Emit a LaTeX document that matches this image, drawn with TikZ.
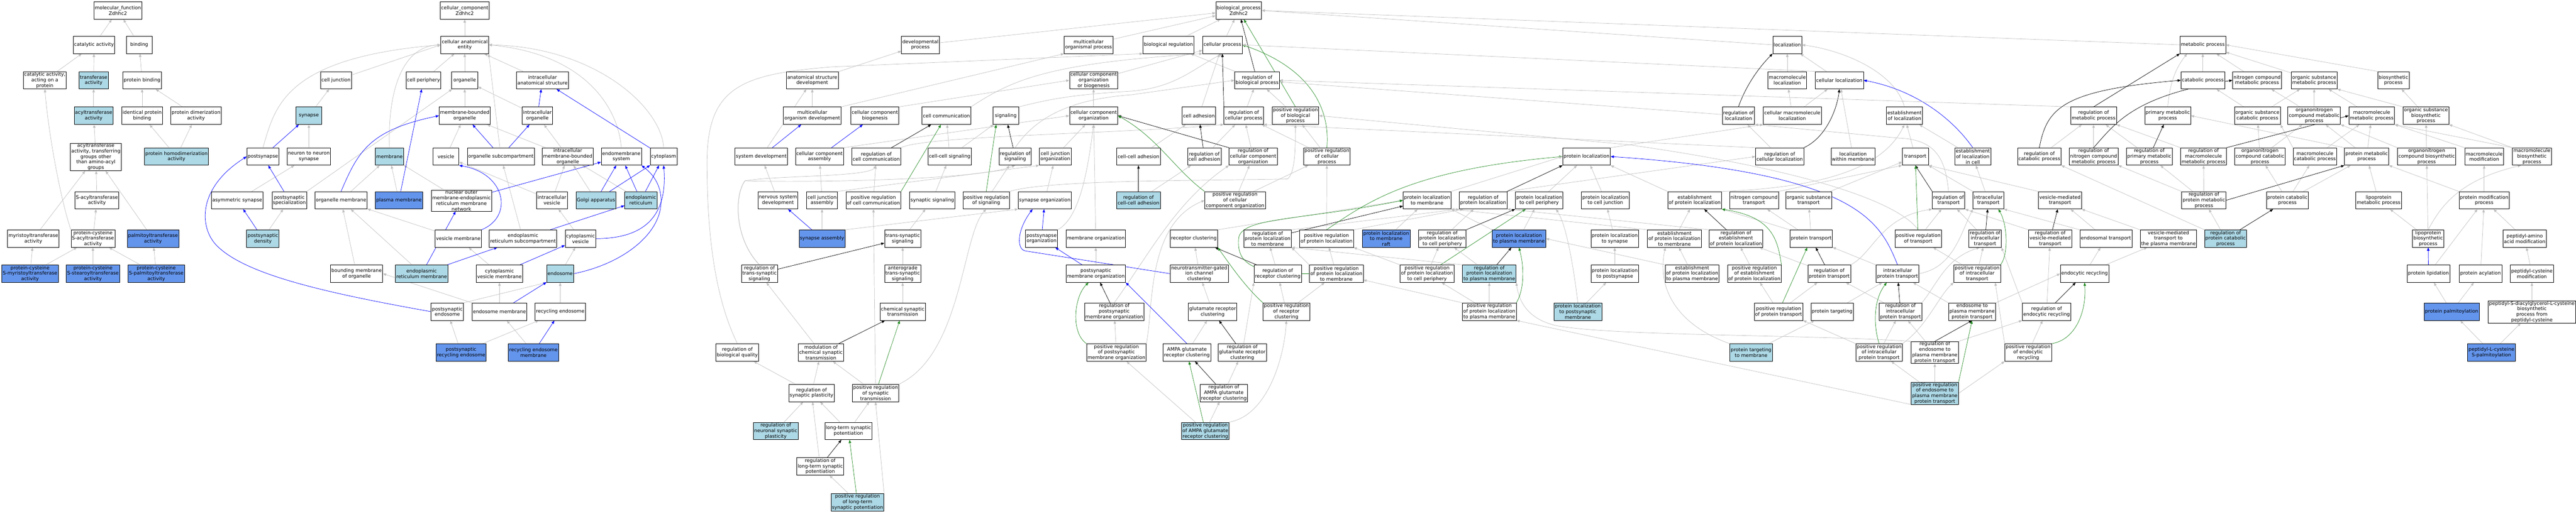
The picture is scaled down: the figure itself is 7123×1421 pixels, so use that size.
\documentclass[tikz,border=0pt]{standalone}
\usepackage{fontspec}
\setmainfont{DejaVu Sans}
\usepackage{tikz}
\usetikzlibrary{arrows.meta,positioning}
\usepackage{xcolor}
\pgfdeclarelayer{edges}
\pgfsetlayers{edges,main}
\definecolor{golightblue}{RGB}{173,216,230}
\definecolor{gocornflower}{RGB}{100,149,237}
\definecolor{goisa}{RGB}{192,192,192}
\definecolor{gopartof}{RGB}{0,0,255}
\definecolor{gopos}{RGB}{34,139,34}
\newcommand{\gofont}{\fontsize{13.3pt}{15.3pt}\selectfont}
\tikzstyle{term} = [draw=black, line width=1pt, fill=white, align=center, font=\gofont, inner xsep=2.5pt, inner ysep=1pt, minimum height=48pt, minimum width=72pt]
\tikzstyle{annot} = [term, fill=golightblue]
\tikzstyle{direct} = [term, fill=gocornflower]
\tikzstyle{isa} = [line width=1pt, draw=goisa, -{Triangle[length=9pt,width=7pt]}]
\tikzstyle{partof} = [isa, draw=gopartof]
\tikzstyle{regul} = [isa, draw=black]
\tikzstyle{posreg} = [isa, draw=gopos]

\begin{document}
\begin{tikzpicture}[x=1pt, y=-1pt]
\useasboundingbox (0,0) rectangle (7123,1421);

% Molecular function
\node[term] (mfroot) at (326,29) {molecular\_function\\Zdhhc2};
\node[term] (catact) at (260,124) {catalytic activity};
\node[term] (binding) at (385,124) {binding};
\node[term] (catprot) at (124,222) {catalytic activity,\\acting on a\\protein};
\node[annot] (transf) at (259,222) {transferase\\activity};
\node[term] (protbind) at (393,222) {protein binding};
\node[annot] (acyltr) at (259,320) {acyltransferase\\activity};
\node[term] (identbind) at (393,320) {identical protein\\binding};
\node[term] (dimer) at (542,320) {protein dimerization\\activity};
\node[term] (acylgrp) at (265,434) {acyltransferase\\activity, transferring\\groups other\\than amino-acyl\\groups};
\node[annot] (homodimer) at (488,433) {protein homodimerization\\activity};
\node[term] (sacyl) at (268,554) {S-acyltransferase\\activity};
\node[term] (myrist) at (92,660) {myristoyltransferase\\activity};
\node[term] (pcsacyl) at (257,660) {protein-cysteine\\S-acyltransferase\\activity};
\node[direct] (palmit) at (423,660) {palmitoyltransferase\\activity};
\node[direct] (pcmyr) at (83,757) {protein-cysteine\\S-myristoyltransferase\\activity};
\node[direct] (pcstear) at (257,757) {protein-cysteine\\S-stearoyltransferase\\activity};
\node[direct] (pcpalm) at (432,757) {protein-cysteine\\S-palmitoyltransferase\\activity};

% Cellular component
\node[term] (ccroot) at (1285,29) {cellular\_component\\Zdhhc2};
\node[term] (cae) at (1285,124) {cellular anatomical\\entity};
\node[term] (celljunc) at (929,222) {cell junction};
\node[term] (cellper) at (1171,222) {cell periphery};
\node[term] (organelle) at (1285,222) {organelle};
\node[term] (intraana) at (1500,222) {intracellular\\anatomical structure};
\node[annot] (synapse) at (854,320) {synapse};
\node[term] (mborg) at (1285,320) {membrane-bounded\\organelle};
\node[term] (intraorg) at (1486,320) {intracellular\\organelle};
\node[term] (postsyn) at (727,433) {postsynapse};
\node[term] (n2n) at (854,433) {neuron to neuron\\synapse};
\node[annot] (membrane) at (1077,433) {membrane};
\node[term] (vesicle) at (1233,433) {vesicle};
\node[term] (orgsub) at (1385,433) {organelle subcompartment};
\node[term] (imborg) at (1570,433) {intracellular\\membrane-bounded\\organelle};
\node[term] (endomem) at (1718,433) {endomembrane\\system};
\node[term] (cytoplasm) at (1835,433) {cytoplasm};
\node[term] (asymsyn) at (656,554) {asymmetric synapse};
\node[term] (pspec) at (800,554) {postsynaptic\\specialization};
\node[term] (orgmem) at (943,554) {organelle membrane};
\node[direct] (plasmamem) at (1103,554) {plasma membrane};
\node[term] (nomernet) at (1276,555) {nuclear outer\\membrane-endoplasmic\\reticulum membrane\\network};
\node[term] (intraves) at (1526,554) {intracellular\\vesicle};
\node[annot] (golgi) at (1648,554) {Golgi apparatus};
\node[annot] (er) at (1772,554) {endoplasmic\\reticulum};
\node[annot] (psd) at (727,660) {postsynaptic\\density};
\node[term] (vesmem) at (1267,660) {vesicle membrane};
\node[term] (ersub) at (1446,660) {endoplasmic\\reticulum subcompartment};
\node[term] (cytves) at (1605,660) {cytoplasmic\\vesicle};
\node[term] (boundmem) at (986,757) {bounding membrane\\of organelle};
\node[annot] (ermem) at (1166,757) {endoplasmic\\reticulum membrane};
\node[term] (cytvesmem) at (1381,757) {cytoplasmic\\vesicle membrane};
\node[annot] (endosome) at (1549,757) {endosome};
\node[term] (psendo) at (1237,862) {postsynaptic\\endosome};
\node[term] (endomemb) at (1381,862) {endosome membrane};
\node[term] (recendo) at (1549,862) {recycling endosome};
\node[direct] (psrecendo) at (1275,975) {postsynaptic\\recycling endosome};
\node[direct] (recendomem) at (1475,975) {recycling endosome\\membrane};

% Biological process: development, signalling, synapse
\node[term] (bproot) at (3425,29) {biological\_process\\Zdhhc2};
\node[term] (devproc) at (2545,124) {developmental\\process};
\node[term] (multiproc) at (3010,124) {multicellular\\organismal process};
\node[term] (bioreg) at (3231,124) {biological regulation};
\node[term] (cellproc) at (3380,124) {cellular process};
\node[term] (asdev) at (2246,222) {anatomical structure\\development};
\node[term] (ccob) at (3024,222) {cellular component\\organization\\or biogenesis};
\node[term] (regbp) at (3476,222) {regulation of\\biological process};
\node[term] (mordev) at (2246,320) {multicellular\\organism development};
\node[term] (ccbio) at (2419,320) {cellular component\\biogenesis};
\node[term] (cellcomm) at (2617,320) {cell communication};
\node[term] (signaling) at (2781,320) {signaling};
\node[term] (ccorg) at (3024,320) {cellular component\\organization};
\node[term] (celladh) at (3315,320) {cell adhesion};
\node[term] (regcp) at (3439,320) {regulation of\\cellular process};
\node[term] (posregbp) at (3582,320) {positive regulation\\of biological\\process};
\node[term] (sysdev) at (2105,433) {system development};
\node[term] (ccasm) at (2266,433) {cellular component\\assembly};
\node[term] (regcc) at (2423,433) {regulation of\\cell communication};
\node[term] (ccsig) at (2626,433) {cell-cell signaling};
\node[term] (regsig) at (2807,433) {regulation of\\signaling};
\node[term] (cjorg) at (2918,433) {cell junction\\organization};
\node[term] (ccadh) at (3148,433) {cell-cell adhesion};
\node[term] (regcadh) at (3330,433) {regulation of\\cell adhesion};
\node[term] (regccorg) at (3465,433) {regulation of\\cellular component\\organization};
\node[term] (posregcp) at (3669,433) {positive regulation\\of cellular\\process};
\node[term] (nsdev) at (2151,554) {nervous system\\development};
\node[term] (cjasm) at (2273,554) {cell junction\\assembly};
\node[term] (posregcc) at (2415,554) {positive regulation\\of cell communication};
\node[term] (synsig) at (2578,554) {synaptic signaling};
\node[term] (posregsig) at (2727,554) {positive regulation\\of signaling};
\node[term] (synorg) at (2889,554) {synapse organization};
\node[annot] (regccadh) at (3148,554) {regulation of\\cell-cell adhesion};
\node[term] (posregccorg) at (3415,554) {positive regulation\\of cellular\\component organization};
\node[direct] (synasm) at (2273,660) {synapse assembly};
\node[term] (transsyn) at (2496,660) {trans-synaptic\\signaling};
\node[term] (psorg) at (2880,660) {postsynapse\\organization};
\node[term] (memorg) at (3030,660) {membrane organization};
\node[term] (recclus) at (3301,660) {receptor clustering};
\node[term] (regplmem) at (3505,660) {regulation of\\protein localization\\to membrane};
\node[term] (posregpl) at (3668,660) {positive regulation\\of protein localization};
\node[direct] (plraft) at (3833,660) {protein localization\\to membrane\\raft};
\node[term] (regtss) at (2100,757) {regulation of\\trans-synaptic\\signaling};
\node[term] (antero) at (2496,757) {anterograde\\trans-synaptic\\signaling};
\node[term] (psmemorg) at (3030,757) {postsynaptic\\membrane organization};
\node[term] (ntgclus) at (3316,757) {neurotransmitter-gated\\ion channel\\clustering};
\node[term] (regrecclus) at (3533,757) {regulation of\\receptor clustering};
\node[term] (posregplmem) at (3695,757) {positive regulation\\of protein localization\\to membrane};
\node[term] (posregplcp) at (3946,757) {positive regulation\\of protein localization\\to cell periphery};
\node[term] (chemsyn) at (2496,862) {chemical synaptic\\transmission};
\node[term] (regpsmem) at (3081,862) {regulation of\\postsynaptic\\membrane organization};
\node[term] (glurclus) at (3353,862) {glutamate receptor\\clustering};
\node[term] (posregrecclus) at (3557,862) {positive regulation\\of receptor\\clustering};
\node[term] (regbq) at (2039,975) {regulation of\\biological quality};
\node[term] (modchem) at (2270,975) {modulation of\\chemical synaptic\\transmission};
\node[term] (posregpsmem) at (3087,975) {positive regulation\\of postsynaptic\\membrane organization};
\node[term] (ampaclus) at (3282,975) {AMPA glutamate\\receptor clustering};
\node[term] (regglur) at (3435,975) {regulation of\\glutamate receptor\\clustering};
\node[term] (regsynpl) at (2244,1087) {regulation of\\synaptic plasticity};
\node[term] (posregsyntr) at (2421,1087) {positive regulation\\of synaptic\\transmission};
\node[term] (regampa) at (3384,1087) {regulation of\\AMPA glutamate\\receptor clustering};
\node[annot] (regneursyn) at (2145,1192) {regulation of\\neuronal synaptic\\plasticity};
\node[term] (ltp) at (2346,1192) {long-term synaptic\\potentiation};
\node[annot] (posregampa) at (3333,1192) {positive regulation\\of AMPA glutamate\\receptor clustering};
\node[term] (regltp) at (2268,1290) {regulation of\\long-term synaptic\\potentiation};
\node[annot] (posregltp) at (2371,1389) {positive regulation\\of long-term\\synaptic potentiation};

% Biological process: localization and transport
\node[term] (loc) at (4942,124) {localization};
\node[term] (macloc) at (4942,222) {macromolecule\\localization};
\node[term] (cellloc) at (5086,222) {cellular localization};
\node[term] (regloc) at (4807,320) {regulation of\\localization};
\node[term] (cmacloc) at (4956,320) {cellular macromolecule\\localization};
\node[term] (estloc) at (5266,320) {establishment\\of localization};
\node[term] (protloc) at (4387,433) {protein localization};
\node[term] (regcellloc) at (4921,433) {regulation of\\cellular localization};
\node[term] (locmem) at (5124,433) {localization\\within membrane};
\node[term] (transport) at (5296,433) {transport};
\node[term] (estloccell) at (5455,433) {establishment\\of localization\\in cell};
\node[term] (plmem) at (3946,554) {protein localization\\to membrane};
\node[term] (regpl) at (4101,554) {regulation of\\protein localization};
\node[term] (plcp) at (4256,554) {protein localization\\to cell periphery};
\node[term] (plcj) at (4439,554) {protein localization\\to cell junction};
\node[term] (estpl) at (4686,554) {establishment\\of protein localization};
\node[term] (ntrans) at (4850,554) {nitrogen compound\\transport};
\node[term] (otrans) at (5001,554) {organic substance\\transport};
\node[term] (regtrans) at (5388,554) {regulation of\\transport};
\node[term] (inttrans) at (5498,554) {intracellular\\transport};
\node[term] (vestrans) at (5696,554) {vesicle-mediated\\transport};
\node[term] (regplcp) at (3988,660) {regulation of\\protein localization\\to cell periphery};
\node[direct] (plpm) at (4200,660) {protein localization\\to plasma membrane};
\node[term] (plsyn) at (4465,660) {protein localization\\to synapse};
\node[term] (estplmem) at (4630,660) {establishment\\of protein localization\\to membrane};
\node[term] (regestpl) at (4800,660) {regulation of\\establishment\\of protein localization};
\node[term] (prottrans) at (5008,660) {protein transport};
\node[term] (posregtrans) at (5304,660) {positive regulation\\of transport};
\node[term] (reginttrans) at (5489,660) {regulation of\\intracellular\\transport};
\node[term] (regvestrans) at (5669,660) {regulation of\\vesicle-mediated\\transport};
\node[term] (endotrans) at (5823,660) {endosomal transport};
\node[term] (vestranspm) at (5996,660) {vesicle-mediated\\transport to\\the plasma membrane};
\node[annot] (regplpm) at (4118,757) {regulation of\\protein localization\\to plasma membrane};
\node[term] (plps) at (4465,757) {protein localization\\to postsynapse};
\node[term] (estplpm) at (4679,757) {establishment\\of protein localization\\to plasma membrane};
\node[term] (posregestpl) at (4851,757) {positive regulation\\of establishment\\of protein localization};
\node[term] (regprottrans) at (5058,757) {regulation of\\protein transport};
\node[term] (ipt) at (5247,757) {intracellular\\protein transport};
\node[term] (posreginttrans) at (5467,757) {positive regulation\\of intracellular\\transport};
\node[term] (endorec) at (5764,757) {endocytic recycling};
\node[term] (posregplpm) at (4118,862) {positive regulation\\of protein localization\\to plasma membrane};
\node[annot] (plpsm) at (4363,862) {protein localization\\to postsynaptic\\membrane};
\node[term] (posregprottrans) at (4918,862) {positive regulation\\of protein transport};
\node[term] (prottarg) at (5066,862) {protein targeting};
\node[term] (regipt) at (5255,862) {regulation of\\intracellular\\protein transport};
\node[term] (endopm) at (5453,862) {endosome to\\plasma membrane\\protein transport};
\node[term] (regendorec) at (5659,862) {regulation of\\endocytic recycling};
\node[annot] (prottargmem) at (4842,975) {protein targeting\\to membrane};
\node[term] (posregipt) at (5196,975) {positive regulation\\of intracellular\\protein transport};
\node[term] (regep) at (5350,975) {regulation of\\endosome to\\plasma membrane\\protein transport};
\node[term] (posregendorec) at (5608,975) {positive regulation\\of endocytic\\recycling};
\node[annot] (posregep) at (5350,1088) {positive regulation\\of endosome to\\plasma membrane\\protein transport};

% Biological process: metabolism
\node[term] (metproc) at (6091,124) {metabolic process};
\node[term] (catproc) at (6091,222) {catabolic process};
\node[term] (ncmet) at (6241,222) {nitrogen compound\\metabolic process};
\node[term] (osmet) at (6399,222) {organic substance\\metabolic process};
\node[term] (biosyn) at (6618,222) {biosynthetic\\process};
\node[term] (regmet) at (5789,320) {regulation of\\metabolic process};
\node[term] (primet) at (5994,320) {primary metabolic\\process};
\node[term] (oscat) at (6242,320) {organic substance\\catabolic process};
\node[term] (oncmet) at (6399,320) {organonitrogen\\compound metabolic\\process};
\node[term] (macmet) at (6558,320) {macromolecule\\metabolic process};
\node[term] (osbio) at (6708,320) {organic substance\\biosynthetic\\process};
\node[term] (regcat) at (5639,433) {regulation of\\catabolic process};
\node[term] (regncmet) at (5789,433) {regulation of\\nitrogen compound\\metabolic process};
\node[term] (regprimet) at (5943,433) {regulation of\\primary metabolic\\process};
\node[term] (regmacmet) at (6093,433) {regulation of\\macromolecule\\metabolic process};
\node[term] (onccat) at (6249,433) {organonitrogen\\compound catabolic\\process};
\node[term] (maccat) at (6401,433) {macromolecule\\catabolic process};
\node[term] (protmet) at (6544,433) {protein metabolic\\process};
\node[term] (oncbio) at (6710,433) {organonitrogen\\compound biosynthetic\\process};
\node[term] (macmod) at (6869,433) {macromolecule\\modification};
\node[term] (macbio) at (7001,433) {macromolecule\\biosynthetic\\process};
\node[term] (regprotmet) at (6094,554) {regulation of\\protein metabolic\\process};
\node[term] (protcat) at (6325,554) {protein catabolic\\process};
\node[term] (lipomet) at (6577,554) {lipoprotein\\metabolic process};
\node[term] (protmod) at (6869,554) {protein modification\\process};
\node[annot] (regprotcat) at (6154,660) {regulation of\\protein catabolic\\process};
\node[term] (lipobio) at (6714,660) {lipoprotein\\biosynthetic\\process};
\node[term] (pepaa) at (6981,660) {peptidyl-amino\\acid modification};
\node[term] (protlip) at (6715,757) {protein lipidation};
\node[term] (protacyl) at (6859,757) {protein acylation};
\node[term] (pepcys) at (7001,757) {peptidyl-cysteine\\modification};
\node[direct] (protpalm) at (6779,862) {protein palmitoylation};
\node[term] (pepdiac) at (7001,863) {peptidyl-S-diacylglycerol-L-cysteine\\biosynthetic\\process from\\peptidyl-cysteine};
\node[direct] (peppalm) at (6889,975) {peptidyl-L-cysteine\\S-palmitoylation};

\begin{pgfonlayer}{edges}
\fill[white] (0,0) rectangle (7123,1421);

% molecular function links
\draw[isa] (catact) -- (mfroot);
\draw[isa] (binding) -- (mfroot);
\draw[isa] (catprot) -- (catact);
\draw[isa] (transf) -- (catact);
\draw[isa] (protbind) -- (binding);
\draw[isa] (acyltr) -- (transf);
\draw[isa] (identbind) -- (protbind);
\draw[isa] (dimer) -- (protbind);
\draw[isa] (acylgrp) -- (acyltr);
\draw[isa] (homodimer) -- (identbind);
\draw[isa] (homodimer) -- (dimer);
\draw[isa] (sacyl) -- (acylgrp);
\draw[isa] (myrist) -- (acylgrp);
\draw[isa] (palmit) -- (acylgrp);
\draw[isa] (pcsacyl) -- (sacyl);
\draw[isa] (pcsacyl.north west) .. controls (170,560) and (135,380) .. (catprot.south);
\draw[isa] (pcmyr) -- (myrist);
\draw[isa] (pcmyr) -- (pcsacyl);
\draw[isa] (pcstear) -- (pcsacyl);
\draw[isa] (pcpalm) -- (pcsacyl);
\draw[isa] (pcpalm) -- (palmit);

% cellular component links
\draw[isa] (cae) -- (ccroot);
\draw[isa] (celljunc) -- (cae.west);
\draw[isa] (cellper) -- (cae);
\draw[isa] (organelle) -- (cae);
\draw[isa] (intraana) -- (cae);
\draw[isa] (postsyn.north) .. controls (760,300) and (780,160) .. (cae.west);
\draw[isa] (membrane.north) .. controls (1072,280) and (1100,130) .. (cae.west);
\draw[isa] (orgsub) -- (cae.south east);
\draw[isa] (endomem.north) .. controls (1710,300) and (1620,150) .. (cae.east);
\draw[isa] (cytoplasm.north) .. controls (1830,300) and (1650,130) .. (cae.east);
\draw[isa] (synapse) -- (celljunc);
\draw[isa] (mborg) -- (organelle);
\draw[isa] (intraorg) -- (organelle);
\draw[isa] (n2n) -- (synapse);
\draw[isa] (vesicle) -- (mborg);
\draw[isa] (imborg) -- (mborg);
\draw[isa] (imborg) -- (intraorg);
\draw[isa] (asymsyn) -- (n2n);
\draw[isa] (pspec.north east) -- (organelle);
\draw[isa] (orgmem) -- (membrane);
\draw[isa] (plasmamem) -- (membrane);
\draw[isa] (nomernet) -- (membrane);
\draw[isa] (intraves) -- (vesicle);
\draw[isa] (intraves) -- (imborg);
\draw[isa] (golgi) -- (imborg);
\draw[isa] (er) -- (imborg);
\draw[isa] (psd) -- (pspec);
\draw[isa] (vesmem) -- (orgmem);
\draw[isa] (ersub) -- (orgsub);
\draw[isa] (cytves) -- (intraves);
\draw[isa] (boundmem) -- (orgmem);
\draw[isa] (ermem) -- (orgmem);
\draw[isa] (cytvesmem) -- (vesmem);
\draw[isa] (endosome) -- (cytves);
\draw[isa] (psendo.north east) -- (endosome.south west);
\draw[isa] (endomemb.north west) -- (boundmem.east);
\draw[isa] (endomemb) -- (cytvesmem);
\draw[isa] (recendo) -- (endosome);
\draw[isa] (psrecendo) -- (psendo);
\draw[isa] (psrecendo) -- (recendo);
\draw[isa] (recendomem) -- (endomemb);
\draw[partof] (postsyn) -- (synapse);
\draw[partof] (pspec) -- (postsyn);
\draw[partof] (psd) -- (asymsyn);
\draw[partof] (orgmem.north) .. controls (990,420) and (1020,360) .. (mborg.west);
\draw[partof] (plasmamem) -- (cellper);
\draw[partof] (orgsub) -- (mborg);
\draw[partof] (orgsub) -- (intraorg);
\draw[partof] (intraorg) -- (intraana);
\draw[partof] (cytoplasm) -- (intraana);
\draw[partof] (nomernet) -- (endomem);
\draw[partof] (golgi) -- (endomem);
\draw[partof] (golgi) -- (cytoplasm);
\draw[partof] (er) -- (endomem);
\draw[partof] (er) -- (cytoplasm);
\draw[partof] (ermem) -- (nomernet);
\draw[partof] (ermem) -- (ersub);
\draw[partof] (ersub) -- (er);
\draw[partof] (vesmem.north east) .. controls (1420,600) and (1400,480) .. (vesicle.south east);
\draw[partof] (cytvesmem) -- (cytves);
\draw[partof] (cytves.east) .. controls (1800,660) and (1845,580) .. (cytoplasm.south);
\draw[partof] (endosome.east) .. controls (1720,730) and (1825,650) .. (1828,560) .. controls (1830,500) and (1790,470) .. (endomem.south east);
\draw[partof] (endomemb) -- (endosome);
\draw[partof] (recendomem) -- (recendo);
\draw[partof] (psendo.west) .. controls (900,810) and (680,760) .. (600,680) .. controls (550,630) and (545,520) .. (postsyn.west);

% development and signalling links
\draw[isa] (devproc) -- (bproot);
\draw[isa] (multiproc) -- (bproot);
\draw[isa] (bioreg) -- (bproot);
\draw[isa] (cellproc) -- (bproot);
\draw[isa] (ccob) -- (cellproc);
\draw[isa] (regbp) -- (bioreg);
\draw[isa] (asdev) -- (devproc);
\draw[isa] (mordev) -- (asdev);
\draw[isa] (mordev.north east) -- (multiproc.south west);
\draw[isa] (ccbio.north east) -- (ccob.west);
\draw[isa] (cellcomm.north east) .. controls (2800,220) and (2900,175) .. (cellproc.south west);
\draw[isa] (signaling.north east) .. controls (2900,275) and (2960,262) .. (3130,252) .. controls (3250,242) and (3300,190) .. (cellproc.south);
\draw[isa] (ccorg) -- (ccob);
\draw[isa] (celladh) -- (cellproc);
\draw[isa] (regcp) -- (regbp);
\draw[isa] (posregbp) -- (regbp);
\draw[isa] (sysdev) -- (asdev);
\draw[isa] (ccasm.north east) -- (ccorg.west);
\draw[isa] (regcc.north east) .. controls (2560,375) and (3100,370) .. (regcp.south west);
\draw[isa] (ccsig) -- (cellcomm);
\draw[isa] (ccsig) -- (signaling);
\draw[isa] (regsig.north) .. controls (2860,330) and (2950,275) .. (3130,262) -- (regbp.west);
\draw[isa] (cjorg) -- (ccorg);
\draw[isa] (ccadh) -- (celladh);
\draw[isa] (regcadh) -- (regcp);
\draw[isa] (regccorg) -- (regcp);
\draw[isa] (posregcp) -- (posregbp);
\draw[isa] (posregcp) -- (regcp);
\draw[isa] (nsdev) -- (sysdev);
\draw[isa] (cjasm) -- (ccasm);
\draw[isa] (cjasm.north east) -- (cjorg.south west);
\draw[isa] (posregcc) -- (regcc);
\draw[isa] (synsig) -- (ccsig);
\draw[isa] (posregsig) -- (regsig);
\draw[isa] (posregsig.north east) .. controls (2900,495) and (3400,500) .. (3560,495) .. controls (3580,480) and (3582,420) .. (posregbp.south);
\draw[isa] (synorg) -- (cjorg);
\draw[isa] (regccadh) -- (regcadh);
\draw[isa] (posregccorg) -- (regccorg);
\draw[isa] (posregccorg) -- (posregcp);
\draw[isa] (synasm) -- (cjasm);
\draw[isa] (synasm.north east) -- (synorg.south west);
\draw[isa] (transsyn) -- (synsig);
\draw[isa] (psorg.north east) .. controls (2990,600) and (3010,450) .. (ccorg.south);
\draw[isa] (memorg) -- (ccorg);
\draw[isa] (recclus.north east) -- (plmem.west);
\draw[isa] (regplmem.north east) -- (regpl.south west);
\draw[isa] (posregpl.north east) -- ([xshift=12pt]regpl.south west);
\draw[isa] (posregpl) -- (posregcp);
\draw[isa] (plraft) -- (plmem);
\draw[isa] (regtss.north) .. controls (2030,660) and (2030,540) .. (2060,500) .. controls (2150,485) and (2400,490) .. (regcc.south);
\draw[isa] (regtss.north) .. controls (2030,660) and (2030,540) .. (2060,500) .. controls (2200,505) and (2700,500) .. (regsig.south);
\draw[isa] (antero) -- (transsyn);
\draw[isa] (psmemorg) -- (memorg);
\draw[isa] (ntgclus) -- (recclus);
\draw[isa] (regrecclus) -- (regplmem);
\draw[isa] (posregplmem.north west) -- (regplmem.south east);
\draw[isa] (posregplmem) -- (posregpl);
\draw[isa] (posregplcp) -- (regplcp);
\draw[isa] (posregplcp.north west) -- (posregpl.south east);
\draw[isa] (chemsyn) -- (antero);
\draw[isa] (regpsmem.north) .. controls (3180,700) and (3250,560) .. (regccorg.south west);
\draw[isa] (glurclus) -- (ntgclus);
\draw[isa] (posregrecclus) -- (regrecclus);
\draw[isa] (posregrecclus) -- (posregplmem);
\draw[isa] (regbq.north) .. controls (1990,850) and (1955,700) .. (1955,450) .. controls (1955,240) and (2050,205) .. (2300,185) -- (bioreg.south west);
\draw[isa] (modchem) -- (regtss);
\draw[isa] (posregpsmem) -- (regpsmem);
\draw[isa] (posregpsmem.north east) .. controls (3190,850) and (3170,620) .. (posregccorg.west);
\draw[isa] (ampaclus) -- (glurclus);
\draw[isa] (regglur) -- (regrecclus.south west);
\draw[isa] (regsynpl) -- (regbq);
\draw[isa] (regsynpl) -- (modchem);
\draw[isa] (posregsyntr) -- (modchem);
\draw[isa] (posregsyntr) -- (posregcc);
\draw[isa] (posregsyntr.north east) .. controls (2660,980) and (2660,650) .. (posregsig.south);
\draw[isa] (regampa) -- (regglur);
\draw[isa] (regneursyn) -- (regsynpl);
\draw[isa] (ltp) -- (regsynpl);
\draw[isa] (ltp) -- (posregsyntr);
\draw[isa] (posregampa) -- (regampa);
\draw[isa] (posregampa) -- (posregpsmem);
\draw[isa] (posregampa.north east) .. controls (3500,1150) and (3550,1000) .. (posregrecclus.south);
\draw[isa] (regltp) -- (regsynpl);
\draw[isa] (posregltp) -- (regltp);
\draw[isa] (posregltp.north east) -- (posregsyntr.south);
\draw[partof] (sysdev) -- (mordev);
\draw[partof] (ccasm) -- (ccbio);
\draw[partof] (synasm) -- (nsdev);
\draw[partof] (psorg) -- (synorg);
\draw[partof] (psmemorg) -- (psorg);
\draw[partof] (ntgclus.west) -- (2835,694) .. controls (2812,690) and (2810,640) .. ([xshift=40pt]synorg.south west);
\draw[partof] (ampaclus.north) -- (psmemorg.south east);
\draw[regul] (regbp) -- (bproot);
\draw[regul] (regcp.north west) -- (cellproc.south);
\draw[regul] (regcc) -- (cellcomm);
\draw[regul] (regsig) -- (signaling);
\draw[regul] (regcadh) -- (celladh);
\draw[regul] (regccadh) -- (ccadh);
\draw[regul] (regccorg.north west) -- (ccorg.east);
\draw[regul] (regtss) -- (transsyn);
\draw[regul] (regplmem) -- (plmem);
\draw[regul] (regrecclus) -- (recclus);
\draw[regul] (regpsmem) -- (psmemorg);
\draw[regul] (modchem) -- (chemsyn);
\draw[regul] (regglur) -- (glurclus);
\draw[regul] (regampa) -- (ampaclus);
\draw[regul] (regltp) -- (ltp);
\draw[posreg] (posregbp.north) -- (bproot);
\draw[posreg] (posregcp.north) .. controls (3680,280) and (3600,180) .. (cellproc.east);
\draw[posreg] (posregcc.north east) -- ([xshift=-15pt]cellcomm.south);
\draw[posreg] (posregsig.north) -- ([xshift=10pt]signaling.south west);
\draw[posreg] (posregccorg.north west) .. controls (3250,470) and (3200,380) .. (ccorg.east);
\draw[posreg] (posregpl.north) .. controls (3780,560) and (3900,470) .. (protloc.west);
\draw[posreg] (posregplmem.west) .. controls (3450,760) and (3420,720) .. (3425,660) .. controls (3430,600) and (3600,610) .. (plmem.west);
\draw[posreg] (posregplcp) -- (plcp);
\draw[posreg] (posregrecclus.north west) .. controls (3440,790) and (3400,730) .. (recclus.south east);
\draw[posreg] (posregpsmem.north west) .. controls (2960,920) and (2970,820) .. ([xshift=-20pt]psmemorg.south);
\draw[posreg] (posregsyntr) -- (chemsyn);
\draw[posreg] (posregampa) -- (ampaclus);
\draw[posreg] (posregltp) -- (ltp);

% localization and transport links
\draw[isa] (loc.west) -- (bproot.east);
\draw[isa] (macloc) -- (loc);
\draw[isa] (cellloc) -- (loc);
\draw[isa] (cellloc.north west) -- (cellproc.east);
\draw[isa] (regloc) -- (regbp);
\draw[isa] (cmacloc) -- (macloc);
\draw[isa] (cmacloc) -- (cellloc);
\draw[isa] (estloc.north) .. controls (5240,200) and (5100,140) .. (loc.east);
\draw[isa] (protloc.north east) -- (cmacloc.south west);
\draw[isa] (regcellloc) -- (regloc);
\draw[isa] (regcellloc.north west) -- (regcp.south east);
\draw[isa] (locmem) -- (cellloc);
\draw[isa] (transport) -- (estloc);
\draw[isa] (estloccell) -- (estloc);
\draw[isa] (plmem.north east) -- (protloc.west);
\draw[isa] (regpl.north east) -- (regcellloc.west);
\draw[isa] (plcp) -- (protloc);
\draw[isa] (plcj) -- (protloc);
\draw[isa] (estpl.north west) -- (protloc.south east);
\draw[isa] (estpl.north east) .. controls (5000,520) and (5200,480) .. (estloc.south);
\draw[isa] (ntrans.north east) -- (transport.south west);
\draw[isa] (otrans) -- (transport);
\draw[isa] (regtrans.north) .. controls (5380,450) and (5360,385) .. (5250,382) -- (regloc.south east);
\draw[isa] (inttrans.north west) -- (transport.south east);
\draw[isa] (inttrans) -- (estloccell);
\draw[isa] (vestrans.north west) -- (transport.south east);
\draw[isa] (regplcp) -- (regpl);
\draw[isa] (plpm) -- (plcp);
\draw[isa] (plpm.north west) -- (plmem.south east);
\draw[isa] (plsyn) -- (plcj);
\draw[isa] (estplmem) -- (estpl);
\draw[isa] (estplmem.north west) -- (plmem.south east);
\draw[isa] (regestpl.north west) -- (regpl.south east);
\draw[isa] (prottrans.north west) -- (estpl.south east);
\draw[isa] (prottrans) -- (otrans);
\draw[isa] (prottrans) -- (ntrans);
\draw[isa] (posregtrans) -- (regtrans);
\draw[isa] (posregtrans.north) .. controls (5250,560) and (5000,470) .. (4500,400) -- (posregbp.east);
\draw[isa] (reginttrans) -- (regtrans);
\draw[isa] (regvestrans.north west) -- (regtrans.south east);
\draw[isa] (endotrans) -- (vestrans);
\draw[isa] (endotrans.north west) -- (inttrans.south east);
\draw[isa] (vestranspm.north west) -- (vestrans.south east);
\draw[isa] (regplpm) -- (regplcp);
\draw[isa] (regplpm.north west) -- (regplmem.south east);
\draw[isa] (plps) -- (plsyn);
\draw[isa] (estplpm) -- (estplmem);
\draw[isa] (estplpm.north west) -- (plpm.east);
\draw[isa] (posregestpl) -- (regestpl);
\draw[isa] (regprottrans) -- (regestpl);
\draw[isa] (regprottrans.north east) .. controls (5180,700) and (5200,600) .. (regtrans.south west);
\draw[isa] (ipt) -- (prottrans);
\draw[isa] (ipt.east) .. controls (5400,740) and (5420,650) .. (inttrans.south west);
\draw[isa] (posreginttrans) -- (reginttrans);
\draw[isa] (posreginttrans) -- (posregtrans);
\draw[isa] (endorec) -- (endotrans);
\draw[isa] (endorec) -- (vestranspm);
\draw[isa] (posregplpm) -- (regplpm);
\draw[isa] (posregplpm) -- (posregplcp);
\draw[isa] (posregplpm.north west) -- (posregplmem);
\draw[isa] (plpsm) -- (plps);
\draw[isa] (plpsm.north) .. controls (4350,730) and (4330,620) .. ([xshift=-20pt]plcp.south east);
\draw[isa] (posregprottrans) -- (regprottrans);
\draw[isa] (posregprottrans) -- (posregestpl);
\draw[isa] (prottarg) -- (ipt);
\draw[isa] (regipt) -- (regprottrans);
\draw[isa] (regipt.north east) .. controls (5360,780) and (5380,715) .. ([xshift=-15pt]reginttrans.south);
\draw[isa] (endopm.north east) -- (endorec.west);
\draw[isa] (endopm.north west) -- (ipt);
\draw[isa] (regendorec) -- (regvestrans);
\draw[isa] (regendorec.north west) -- (reginttrans.south east);
\draw[isa] (prottargmem) -- (prottarg);
\draw[isa] (prottargmem.north west) .. controls (4640,900) and (4580,800) .. ([xshift=-25pt]estplmem.south);
\draw[isa] (posregipt) -- (regipt);
\draw[isa] (posregipt.north west) -- (posregprottrans.south east);
\draw[isa] (posregipt.north east) .. controls (5330,900) and (5360,820) .. (posreginttrans.south west);
\draw[isa] (regep) -- (regipt);
\draw[isa] (regep.north east) -- (regendorec.south west);
\draw[isa] (regep.north west) .. controls (5000,925) and (4450,930) .. (4300,900) .. controls (4220,880) and (4200,830) .. (regplpm.south east);
\draw[isa] (posregendorec) -- (regendorec);
\draw[isa] (posregendorec.north west) -- ([xshift=-15pt]posreginttrans.south east);
\draw[isa] (posregep) -- (regep);
\draw[isa] (posregep) -- (posregipt);
\draw[isa] (posregep.east) -- (posregendorec.south west);
\draw[isa] (posregep.south west) -- (posregplpm.south east);
\draw[partof] (estloccell.north) .. controls (5400,330) and (5300,250) .. (cellloc.east);
\draw[partof] (ipt.north) .. controls (5200,620) and (5150,480) .. (protloc.east);
\draw[regul] (regloc.north) .. controls (4830,230) and (4870,180) .. (loc.south west);
\draw[regul] (regcellloc.north east) .. controls (5050,380) and (5080,300) .. (cellloc.south);
\draw[regul] (regpl.north east) -- (protloc.south west);
\draw[regul] (regplcp.north east) -- (plcp.south west);
\draw[regul] (regestpl) -- (estpl);
\draw[regul] (regtrans.north west) -- (transport.south);
\draw[regul] (reginttrans) -- (inttrans);
\draw[regul] (regvestrans) -- (vestrans);
\draw[regul] (regplpm) -- (plpm);
\draw[regul] (regprottrans) -- (prottrans);
\draw[regul] (regipt) -- (ipt);
\draw[regul] (regendorec) -- (endorec);
\draw[regul] (regep.north) -- (endopm.south);
\draw[posreg] (posregtrans) -- (transport);
\draw[posreg] (posregestpl.north east) .. controls (4915,660) and (4900,600) .. (estpl.south east);
\draw[posreg] (posregprottrans) -- (prottrans);
\draw[posreg] (posreginttrans.north east) .. controls (5555,700) and (5550,620) .. ([xshift=-15pt]inttrans.south east);
\draw[posreg] (posregplpm.north east) .. controls (4215,800) and (4215,740) .. (plpm.south);
\draw[posreg] (posregipt.north) .. controls (5180,900) and (5180,830) .. ([xshift=-30pt]ipt.south);
\draw[posreg] (posregendorec.north east) .. controls (5740,940) and (5770,860) .. (endorec.south);
\draw[posreg] (posregep.north east) -- (endopm.south);

% metabolism links
\draw[isa] (metproc.west) -- (bproot.east);
\draw[isa] (catproc) -- (metproc);
\draw[isa] (ncmet) -- (metproc);
\draw[isa] (osmet) -- (metproc);
\draw[isa] (biosyn.north west) -- (metproc.east);
\draw[isa] (regmet.north west) -- (regbp.east);
\draw[isa] (primet.north) .. controls (6000,230) and (6015,190) .. ([xshift=20pt]metproc.south west);
\draw[isa] (oscat) -- (catproc);
\draw[isa] (oscat) -- (osmet);
\draw[isa] (oncmet) -- (ncmet);
\draw[isa] (oncmet) -- (osmet);
\draw[isa] (macmet) -- (osmet);
\draw[isa] (osbio) -- (biosyn);
\draw[isa] (osbio.north west) -- (osmet.south east);
\draw[isa] (regcat) -- (regmet);
\draw[isa] (regncmet) -- (regmet);
\draw[isa] (regprimet) -- (regmet);
\draw[isa] (regmacmet.north west) -- (regmet.south east);
\draw[isa] (onccat) -- (oscat);
\draw[isa] (onccat) -- (oncmet);
\draw[isa] (maccat.north west) -- (oscat.south east);
\draw[isa] (maccat) -- (macmet);
\draw[isa] (protmet) -- (oncmet);
\draw[isa] (protmet) -- (macmet);
\draw[isa] (protmet.north west) -- (primet.east);
\draw[isa] (oncbio) -- (osbio);
\draw[isa] (oncbio.north west) -- (oncmet.south east);
\draw[isa] (macmod.north west) -- (macmet.south east);
\draw[isa] (macbio.north west) -- (osbio.south east);
\draw[isa] (macbio.north west) -- (macmet.south east);
\draw[isa] (regprotmet) -- (regmacmet);
\draw[isa] (regprotmet) -- (regprimet);
\draw[isa] (regprotmet.north west) -- (regncmet.south east);
\draw[isa] (protcat) -- (protmet);
\draw[isa] (protcat) -- (onccat);
\draw[isa] (protcat) -- (maccat);
\draw[isa] (lipomet) -- (protmet);
\draw[isa] (protmod) -- (macmod);
\draw[isa] (protmod.north west) -- (protmet.south east);
\draw[isa] (regprotcat) -- (regprotmet);
\draw[isa] (regprotcat.north west) -- (regcat.south east);
\draw[isa] (lipobio) -- (lipomet);
\draw[isa] (lipobio) -- (oncbio);
\draw[isa] (lipobio.north) .. controls (6745,580) and (6790,500) .. ([xshift=-30pt]macbio.south);
\draw[isa] (pepaa) -- (protmod);
\draw[isa] (protlip) -- (protmod);
\draw[isa] (protacyl) -- (protmod);
\draw[isa] (pepcys) -- (pepaa);
\draw[isa] (protpalm) -- (protlip);
\draw[isa] (protpalm) -- (protacyl);
\draw[isa] (pepdiac) -- (pepcys);
\draw[isa] (peppalm) -- (protpalm);
\draw[isa] (peppalm) -- (pepdiac);
\draw[partof] (protlip) -- (lipobio);
\draw[regul] (regmet.north) -- (metproc.south west);
\draw[regul] (regcat.north) .. controls (5660,300) and (5700,250) .. (catproc.west);
\draw[regul] (regncmet.north) .. controls (5850,340) and (5900,265) .. (ncmet.west);
\draw[regul] (regprimet) -- (primet);
\draw[regul] (regmacmet.north east) -- (macmet.west);
\draw[regul] (regprotmet.east) -- (protmet.south west);
\draw[regul] (regprotcat) -- (protcat);
\end{pgfonlayer}
\end{tikzpicture}
\end{document}
